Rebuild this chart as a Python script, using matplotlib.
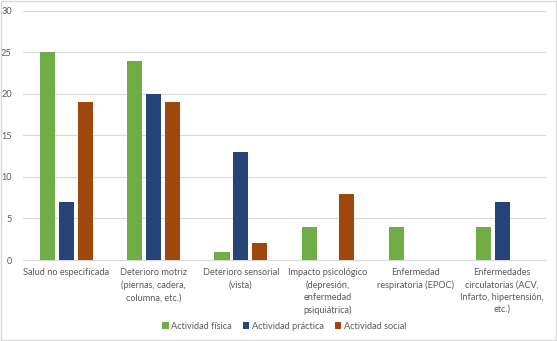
import numpy as np
import matplotlib.pyplot as plt
from matplotlib.patches import Rectangle

categories = [
    "Salud no especificada",
    "Deterioro motriz\n(piernas, cadera,\ncolumna, etc.)",
    "Deterioro sensorial\n(vista)",
    "Impacto psicológico\n(depresión,\nenfermedad\npsiquiátrica)",
    "Enfermedad\nrespiratoria (EPOC)",
    "Enfermedades\ncirculatorias (ACV,\nInfarto, hipertensión,\netc.)",
]
series_names = ["Actividad física", "Actividad práctica", "Actividad social"]
fisica = [25, 24, 1, 4, 4, 4]
practica = [7, 20, 13, 0, 0, 7]
social = [19, 19, 2, 8, 0, 0]
colors = ["#70AD47", "#264478", "#9E480E"]

plt.rcParams['font.family'] = ['Lato', 'DejaVu Sans']
text_col = "#595959"

fig = plt.figure(figsize=(5.57, 3.41), dpi=100)
ax = fig.add_axes([0.041, 0.2375, 0.939, 0.7305])
fig.patches.append(Rectangle((0.001, 0.002), 0.997, 0.995, transform=fig.transFigure,
                             fill=False, edgecolor="#D9D9D9", linewidth=1))

x = np.arange(len(categories))
w = 0.175
offs = [-0.215, 0.0, 0.215]
for vals, name, c, o in zip([fisica, practica, social], series_names, colors, offs):
    ax.bar(x + o, vals, width=w, color=c, label=name, zorder=3)

ax.set_xlim(-0.5, len(categories) - 0.5)
ax.set_ylim(0, 30)
ax.set_yticks(range(0, 31, 5))
ax.grid(axis="y", color="#D9D9D9", linewidth=0.8, zorder=0)
for s in ["top", "right", "left"]:
    ax.spines[s].set_visible(False)
ax.spines["bottom"].set_color("#D9D9D9")
ax.tick_params(axis="both", length=0, labelsize=6.6, colors=text_col)
ax.tick_params(axis="y", pad=8)
ax.tick_params(axis="x", pad=6)
ax.set_xticks(x)
ax.set_xticklabels(categories, va="top", ha="center", linespacing=1.45)

ax.legend(loc="upper center", bbox_to_anchor=(0.5, -0.215), ncol=3, frameon=False,
          fontsize=6.6, labelcolor=text_col, handlelength=0.7, handleheight=0.7,
          handletextpad=0.3, columnspacing=1.2)

fig.savefig("out.png", dpi=100)
